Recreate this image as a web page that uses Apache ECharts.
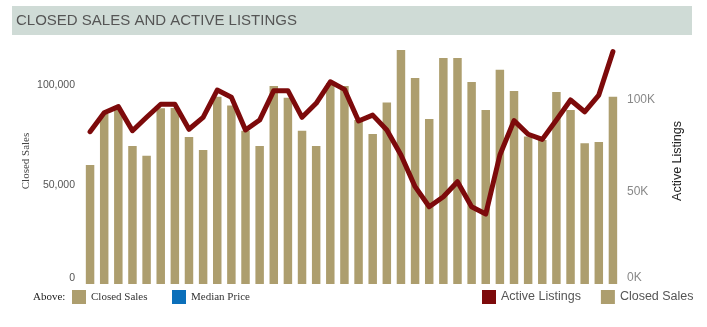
<!DOCTYPE html>
<html>
<head>
<meta charset="utf-8">
<script src="https://cdn.jsdelivr.net/npm/echarts@6/dist/echarts.min.js"></script>
<style>
html,body{margin:0;padding:0;background:#fff;}
#c{width:707px;height:327px;}
</style>
</head>
<body>
<div id="c"></div>
<script>
var categories = [];
for (var i = 1; i <= 38; i++) categories.push('P' + i);

var closedSales = [59900, 85600, 87600, 69500, 64500, 88500, 88600, 74000, 67500, 94300,
  89800, 77200, 69500, 99700, 93800, 77200, 69500, 101200, 99700, 82600,
  75500, 91300, 117800, 103700, 83100, 113800, 113800, 101700, 87600, 107800,
  97200, 74200, 72500, 96700, 87600, 70800, 71500, 94200];

var activeListings = [82800, 93100, 96400, 83300, 90600, 97700, 97700, 84100, 90600, 105400,
  101500, 83700, 89100, 105100, 105100, 90600, 98200, 109900, 105800, 88600,
  91800, 83700, 70100, 52900, 42000, 47400, 55600, 42000, 38000, 70100,
  88800, 81400, 78600, 89100, 100000, 93600, 102700, 126300];

var leftTicks = [0, 50000, 100000];
var rightTicks = [0, 50000, 100000];

var BAR = '#ad9e6e', LINE = '#7d0a0b';

var chart = echarts.init(document.getElementById('c'), null, {renderer: 'canvas'});
chart.setOption({
  animation: false,
  grid: {left: 83, right: 87, top: 45, bottom: 43},
  legend: {
    data: ['Active Listings', 'Closed Sales'],
    left: 482, top: 290, padding: 0,
    icon: 'rect', itemWidth: 14, itemHeight: 14, itemGap: 20,
    textStyle: {fontFamily: 'Liberation Sans, Arial', fontSize: 12.5, color: '#555'},
    selectedMode: false
  },
  xAxis: {
    type: 'category', data: categories, boundaryGap: true,
    axisLine: {show: false}, axisTick: {show: false}, axisLabel: {show: false}
  },
  yAxis: [{
    type: 'value', min: 0, max: 120300, interval: 50000,
    splitLine: {show: false}, axisLine: {show: false}, axisTick: {show: false},
    axisLabel: {
      showMaxLabel: false, margin: 8, color: '#555', fontSize: 10.5,
      verticalAlignMinLabel: 'bottom',
      fontFamily: 'Liberation Sans, Arial',
      formatter: function (v) { return leftTicks.indexOf(v) >= 0 ? v.toLocaleString('en-US') : ''; }
    }
  }, {
    type: 'value', min: 0, max: 129900, interval: 50000, position: 'right',
    splitLine: {show: false}, axisLine: {show: false}, axisTick: {show: false},
    axisLabel: {
      showMaxLabel: false, margin: 7, color: '#888', fontSize: 12,
      verticalAlignMinLabel: 'bottom',
      fontFamily: 'Liberation Sans, Arial',
      formatter: function (v) { return rightTicks.indexOf(v) >= 0 ? (v / 1000) + 'K' : ''; }
    }
  }],
  series: [{
    name: 'Closed Sales', type: 'bar', data: closedSales, yAxisIndex: 0,
    barWidth: '60%', itemStyle: {color: BAR}
  }, {
    name: 'Active Listings', type: 'line', data: activeListings, yAxisIndex: 1,
    symbol: 'none', lineStyle: {color: LINE, width: 5, join: 'round', cap: 'round'},
    itemStyle: {color: LINE}, z: 5
  }],
  graphic: [
    {type: 'rect', left: 12, top: 6, shape: {width: 680, height: 29}, style: {fill: '#cfdbd6'}},
    {type: 'text', left: 16, top: 13, style: {text: 'CLOSED SALES AND ACTIVE LISTINGS', fill: '#555', font: '15px "Liberation Sans", Arial'}},
    {type: 'text', x: 26, y: 161, rotation: Math.PI / 2, style: {text: 'Closed Sales', fill: '#444', font: '11px "Liberation Serif", "Times New Roman", serif', align: 'center', verticalAlign: 'middle'}},
    {type: 'text', x: 678, y: 161, rotation: Math.PI / 2, style: {text: 'Active Listings', fill: '#222', font: '12.5px "Liberation Sans", Arial', align: 'center', verticalAlign: 'middle'}},
    {type: 'text', left: 33, top: 292, style: {text: 'Above:', fill: '#222', font: '11px "Liberation Serif", "Times New Roman", serif'}},
    {type: 'rect', left: 72, top: 290, shape: {width: 14, height: 14}, style: {fill: BAR}},
    {type: 'text', left: 91, top: 292, style: {text: 'Closed Sales', fill: '#333', font: '11px "Liberation Serif", "Times New Roman", serif'}},
    {type: 'rect', left: 172, top: 290, shape: {width: 14, height: 14}, style: {fill: '#0b6fba'}},
    {type: 'text', left: 191, top: 292, style: {text: 'Median Price', fill: '#333', font: '11px "Liberation Serif", "Times New Roman", serif'}}
  ]
});
</script>
</body>
</html>
